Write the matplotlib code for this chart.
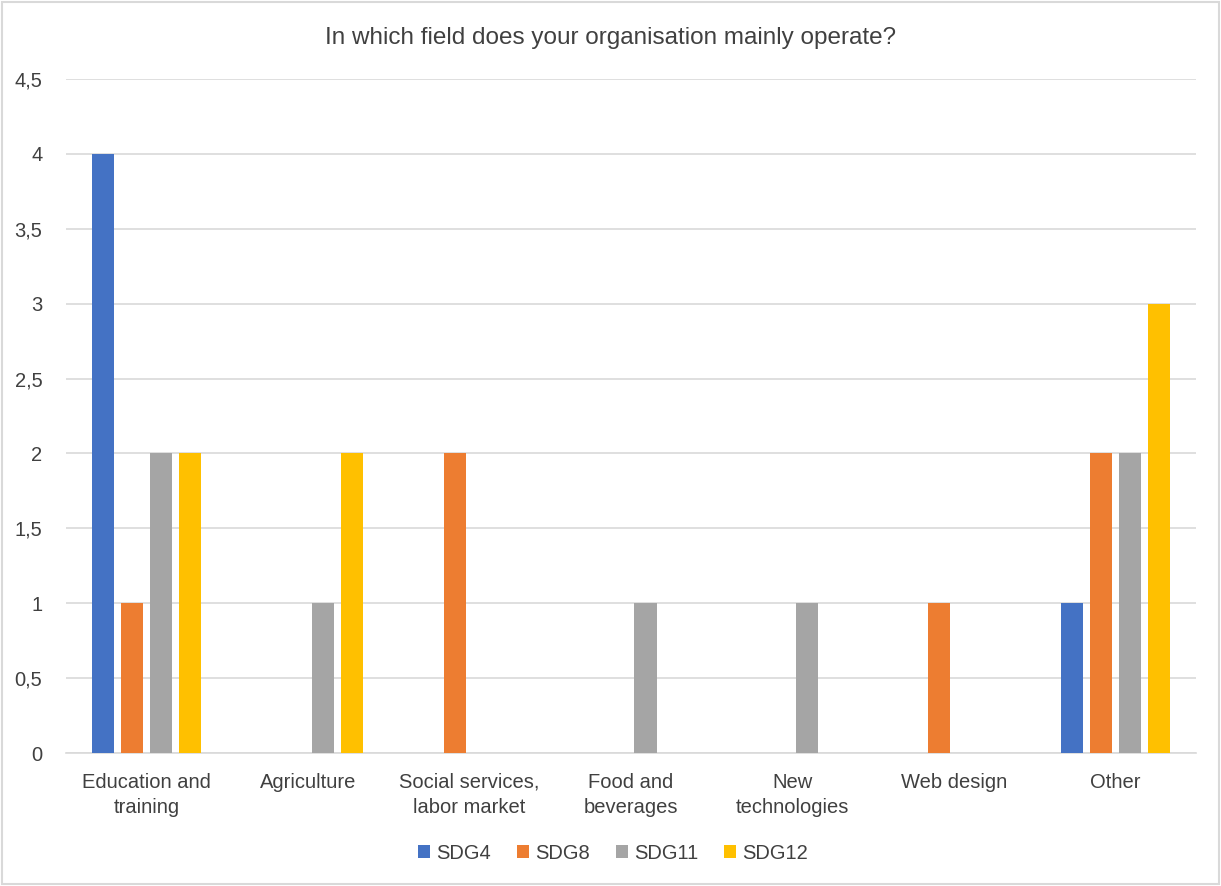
import numpy as np
import matplotlib.pyplot as plt
from matplotlib.ticker import FuncFormatter

plt.rcParams['font.family'] = ['Liberation Sans', 'DejaVu Sans']

categories = ["Education and\ntraining", "Agriculture", "Social services,\nlabor market",
              "Food and\nbeverages", "New\ntechnologies", "Web design", "Other"]
series = ["SDG4", "SDG8", "SDG11", "SDG12"]
sdg4 = [4, 0, 0, 0, 0, 0, 1]
sdg8 = [1, 0, 2, 0, 0, 1, 2]
sdg11 = [2, 1, 0, 1, 1, 0, 2]
sdg12 = [2, 2, 0, 0, 0, 0, 3]
colors = ["#4472C4", "#ED7D31", "#A5A5A5", "#FFC000"]

fig = plt.figure(figsize=(12.21, 8.86), dpi=100)
ax = fig.add_axes([0.054, 0.150, 0.9255, 0.761])

x = np.arange(len(categories))
step = 0.18
width = 0.137
for i, (name, vals) in enumerate(zip(series, [sdg4, sdg8, sdg11, sdg12])):
    ax.bar(x + (i - 1.5) * step, vals, width, color=colors[i], label=name, zorder=3)

ax.set_xlim(-0.5, len(categories) - 0.5)
ax.set_ylim(0, 4.5)
ax.set_yticks(np.arange(0, 4.51, 0.5))
ax.yaxis.set_major_formatter(FuncFormatter(lambda v, p: ('%g' % v).replace('.', ',')))
ax.set_xticks(x)
ax.set_xticklabels(categories, linespacing=1.45)
ax.grid(axis='y', color='#D9D9D9', lw=1.2, zorder=0)
for s in ['top', 'right', 'left']:
    ax.spines[s].set_visible(False)
ax.spines['bottom'].set_color('#D9D9D9')
ax.spines['bottom'].set_linewidth(1.2)
ax.tick_params(axis='both', length=0, labelsize=14.5, labelcolor='#404040')
ax.tick_params(axis='y', pad=17)
ax.tick_params(axis='x', pad=14)

fig.text(0.5, 0.957, "In which field does your organisation mainly operate?",
         ha='center', va='center', fontsize=17.5, color='#404040')

leg = fig.legend(loc='center', bbox_to_anchor=(0.502, 0.037), ncol=4, frameon=False,
                 fontsize=14.5, handlelength=0.6, handleheight=0.6, handletextpad=0.3,
                 columnspacing=1.3)
for t in leg.get_texts():
    t.set_color('#404040')

fig.patches.append(plt.Rectangle((0.002, 0.002), 0.996, 0.996, transform=fig.transFigure,
                                 fill=False, edgecolor='#D9D9D9', lw=1.5))

fig.savefig("out.png", dpi=100)
